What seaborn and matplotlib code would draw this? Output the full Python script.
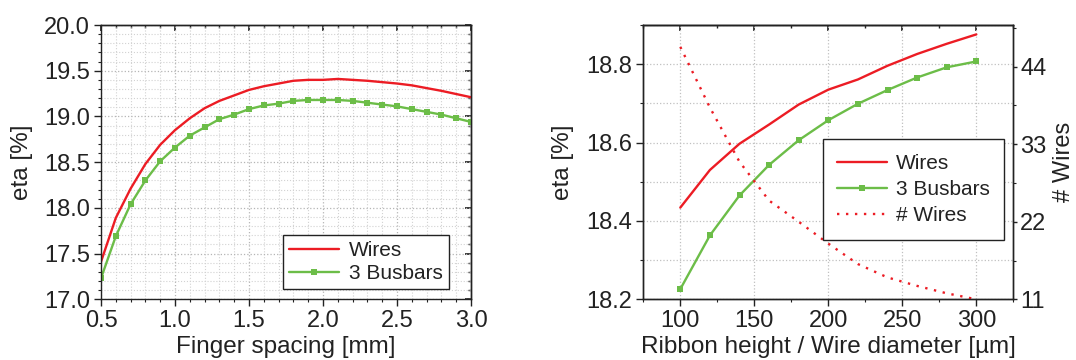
import numpy as np
import pandas as pd
import seaborn as sns
import matplotlib.pyplot as plt
from matplotlib.ticker import MultipleLocator

# left panel: efficiency vs finger spacing
spacing = [0.5, 0.6, 0.7, 0.8, 0.9, 1.0, 1.1, 1.2, 1.3, 1.4, 1.5, 1.6, 1.7,
           1.8, 1.9, 2.0, 2.1, 2.2, 2.3, 2.4, 2.5, 2.6, 2.7, 2.8, 2.9, 3.0]
eta_wires_sp = [17.41, 17.89, 18.21, 18.48, 18.69, 18.85, 18.98, 19.09, 19.17,
                19.23, 19.29, 19.33, 19.36, 19.39, 19.40, 19.40, 19.41, 19.40,
                19.39, 19.375, 19.36, 19.34, 19.31, 19.28, 19.245, 19.21]
eta_busbars_sp = [17.23, 17.69, 18.04, 18.30, 18.51, 18.66, 18.79, 18.88, 18.97,
                  19.02, 19.08, 19.12, 19.14, 19.17, 19.18, 19.18, 19.18, 19.17,
                  19.15, 19.13, 19.11, 19.08, 19.05, 19.02, 18.98, 18.94]

# right panel: efficiency vs ribbon height / wire diameter
height = [100, 120, 140, 160, 180, 200, 220, 240, 260, 280, 300]
eta_wires_h = [18.434, 18.530, 18.597, 18.646, 18.697, 18.735, 18.761,
               18.796, 18.826, 18.852, 18.876]
eta_busbars_h = [18.226, 18.363, 18.465, 18.543, 18.606, 18.657, 18.699,
                 18.734, 18.766, 18.792, 18.807]
n_wires = [46.8, 38.2, 30.5, 25.0, 22.0, 18.9, 16.0, 14.1, 12.9, 11.85, 11.0]

RED = '#ec1c24'
GREEN = '#6cbd48'
DARK = '#222222'

sns.set_theme(style='ticks')
plt.rcParams['font.family'] = ['Liberation Sans', 'DejaVu Sans']
plt.rcParams['axes.edgecolor'] = DARK
plt.rcParams['axes.linewidth'] = 1.0
plt.rcParams['xtick.color'] = DARK
plt.rcParams['ytick.color'] = DARK
plt.rcParams['text.color'] = DARK
plt.rcParams['axes.labelcolor'] = DARK

df_sp = pd.DataFrame({'spacing': spacing, 'wires': eta_wires_sp, 'busbars': eta_busbars_sp})
df_h = pd.DataFrame({'height': height, 'wires': eta_wires_h, 'busbars': eta_busbars_h,
                     'n': n_wires})

fig = plt.figure(figsize=(10.76, 3.6), dpi=100)
W, H = 1076, 360
ax_l = fig.add_axes([101 / W, 1 - 299.3 / H, 370 / W, 274.3 / H])
ax_r = fig.add_axes([643.3 / W, 1 - 299.3 / H, 370 / W, 274.3 / H])


def style_ticks(ax, xmaj, xmin, ymaj, ymin):
    ax.xaxis.set_major_locator(MultipleLocator(xmaj))
    ax.xaxis.set_minor_locator(MultipleLocator(xmin))
    ax.yaxis.set_major_locator(MultipleLocator(ymaj))
    ax.yaxis.set_minor_locator(MultipleLocator(ymin))
    ax.tick_params(which='major', direction='out', length=5, width=1, labelsize=17, pad=3)
    ax.tick_params(which='minor', direction='out', length=2.5, width=0.8)
    top = ax.secondary_xaxis('top')
    top.xaxis.set_major_locator(MultipleLocator(xmaj))
    top.xaxis.set_minor_locator(MultipleLocator(xmin))
    top.tick_params(which='major', direction='in', length=4, labeltop=False)
    top.tick_params(which='minor', direction='in', length=2)
    return top


# ---- left panel
sns.lineplot(data=df_sp, x='spacing', y='wires', ax=ax_l, color=RED, lw=1.7, label='Wires')
sns.lineplot(data=df_sp, x='spacing', y='busbars', ax=ax_l, color=GREEN, lw=1.7,
             marker='s', markersize=5, markeredgewidth=0, label='3 Busbars')
ax_l.set_xlim(0.5, 3.0)
ax_l.set_ylim(17.0, 20.0)
style_ticks(ax_l, 0.5, 0.1, 0.5, 0.1)
ax_l.xaxis.set_major_formatter('{x:.1f}')
ax_l.yaxis.set_major_formatter('{x:.1f}')
right = ax_l.secondary_yaxis('right')
right.yaxis.set_major_locator(MultipleLocator(0.5))
right.yaxis.set_minor_locator(MultipleLocator(0.1))
right.tick_params(which='major', direction='in', length=4, labelright=False)
right.tick_params(which='minor', direction='in', length=2)
ax_l.grid(which='major', linestyle=':', color='#b5b5b5', linewidth=0.9)
ax_l.grid(which='minor', linestyle=':', color='#d2d2d2', linewidth=0.8)
ax_l.set_xlabel('Finger spacing [mm]', fontsize=17.5)
ax_l.set_ylabel('eta [%]', fontsize=17.5)
ax_l.xaxis.set_label_coords(0.5, -0.135)
ax_l.yaxis.set_label_coords(-0.183, 0.5)
leg = ax_l.legend(loc='lower right', bbox_to_anchor=(0.9414, 0.0365), borderaxespad=0,
                  fontsize=15, frameon=True, fancybox=False, framealpha=1,
                  edgecolor=DARK, handlelength=2.4, handletextpad=0.5,
                  borderpad=0.3, labelspacing=0.2)
leg.get_frame().set_linewidth(1.0)

# ---- right panel
sns.lineplot(data=df_h, x='height', y='wires', ax=ax_r, color=RED, lw=1.7, label='Wires',
             legend=False)
sns.lineplot(data=df_h, x='height', y='busbars', ax=ax_r, color=GREEN, lw=1.7,
             marker='s', markersize=5, markeredgewidth=0, label='3 Busbars', legend=False)
ax_r.set_xlim(75, 325)
ax_r.set_ylim(18.2, 18.9)
style_ticks(ax_r, 50, 25, 0.2, 0.1)
ax_r.yaxis.set_major_formatter('{x:.1f}')
ax_r.xaxis.grid(which='major', linestyle=':', color='#c0c0c0', linewidth=0.9)
ax_r.yaxis.grid(which='both', linestyle=':', color='#c0c0c0', linewidth=0.9)
ax_r.set_xlabel('Ribbon height / Wire diameter [µm]', fontsize=17.5)
ax_r.set_ylabel('eta [%]', fontsize=17.5)
ax_r.xaxis.set_label_coords(0.5, -0.135)
ax_r.yaxis.set_label_coords(-0.187, 0.5)

ax2 = ax_r.twinx()
sns.lineplot(data=df_h, x='height', y='n', ax=ax2, color=RED, lw=1.7,
             linestyle=(0, (1, 2.8)), label='# Wires', legend=False)
ax2.set_ylim(11, 49.9)
ax2.set_yticks([11, 22, 33, 44])
ax2.yaxis.set_minor_locator(MultipleLocator(5.5))
ax2.tick_params(which='major', direction='out', length=3, width=1, labelsize=17, pad=2)
ax2.tick_params(which='minor', direction='out', length=2, width=0.8)
ax2.grid(False)
ax2.set_ylabel('# Wires', fontsize=17)
ax2.yaxis.set_label_coords(1.108, 0.5)

h1, l1 = ax_r.get_legend_handles_labels()
h2, l2 = ax2.get_legend_handles_labels()
leg2 = ax2.legend(h1 + h2, l1 + l2, loc='upper right', bbox_to_anchor=(0.9754, 0.5833),
                  borderaxespad=0, fontsize=15, frameon=True, fancybox=False,
                  framealpha=1, edgecolor=DARK, handlelength=2.4, handletextpad=0.4,
                  borderpad=0.7, labelspacing=0.35)
leg2.get_frame().set_linewidth(1.0)

fig.savefig('out.png', dpi=100)
